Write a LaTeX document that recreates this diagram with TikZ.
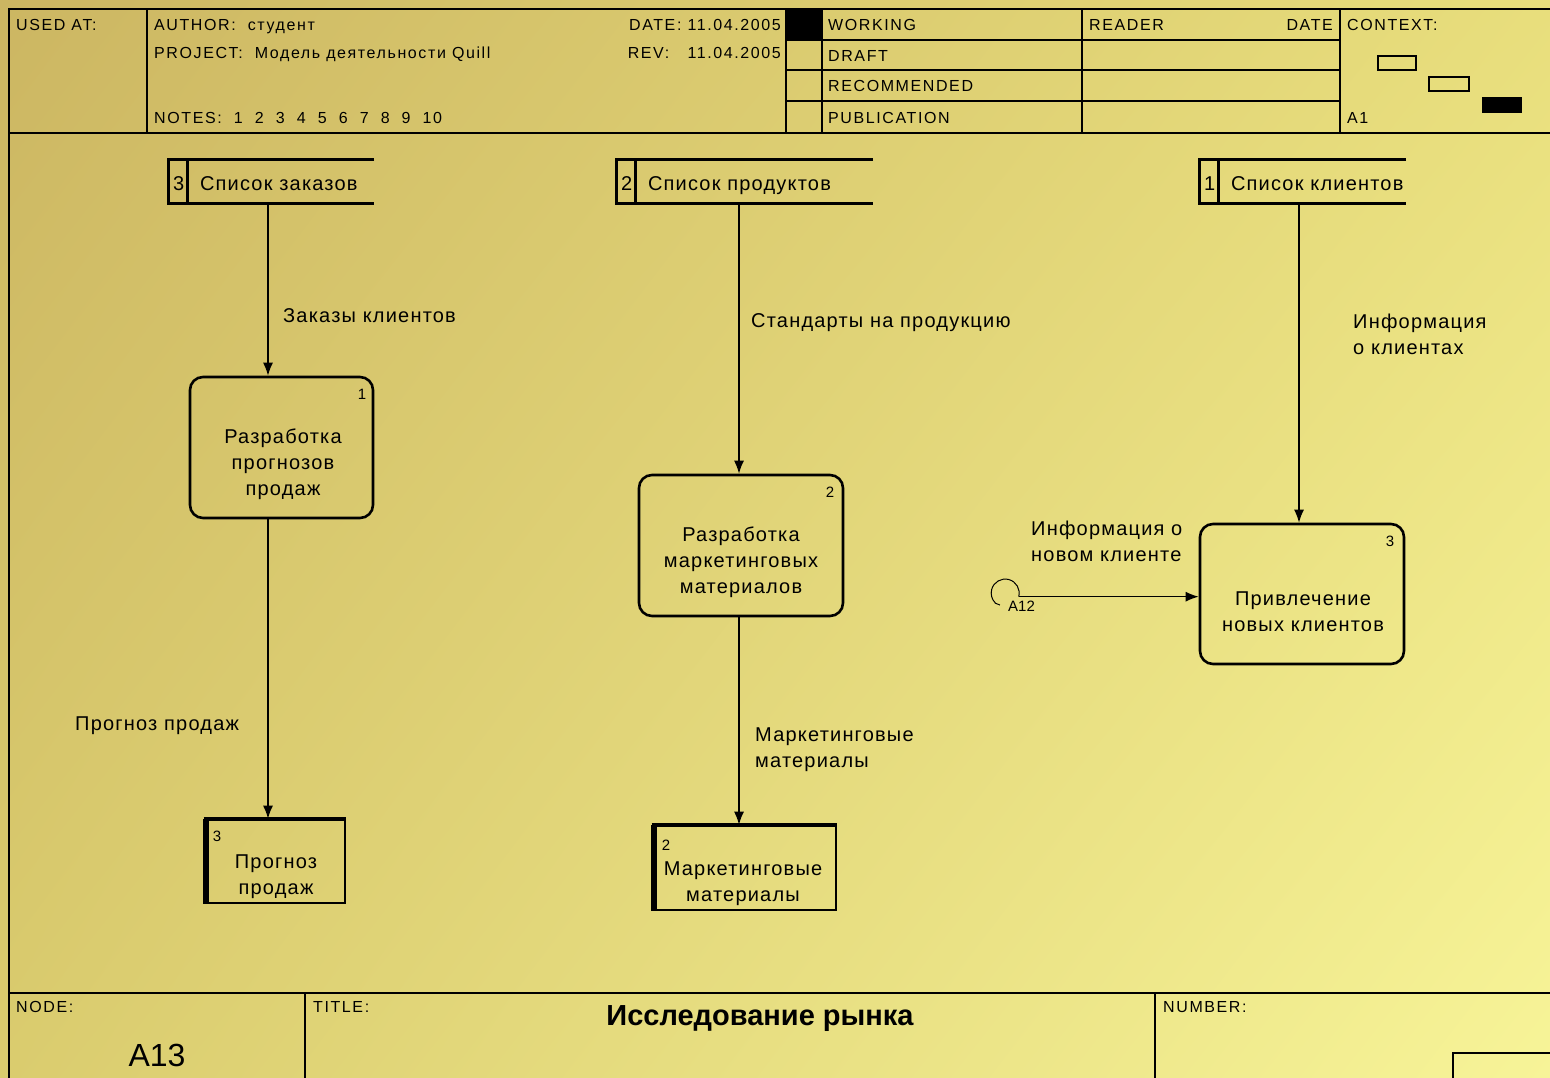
\documentclass[tikz,border=0pt]{standalone}
\usepackage{fontspec}
\setmainfont{Liberation Sans}
\newfontfamily\hdrfont[LetterSpace=10]{Liberation Sans}
\newfontfamily\lblfont[LetterSpace=6]{Liberation Sans}
\usetikzlibrary{arrows.meta,shadings}
\definecolor{bgA}{RGB}{204,182,98}
\definecolor{bgB}{RGB}{232,222,124}
\definecolor{bgC}{RGB}{218,204,110}
\definecolor{bgD}{RGB}{247,244,152}
\tikzset{
  frame/.style={line width=1.6pt, line cap=rect},
  hdr/.style={font=\hdrfont\fontsize{16}{18}\selectfont, inner sep=0pt, anchor=west, text height=11pt, text depth=0pt},
  lbl/.style={font=\lblfont\fontsize{20}{26}\selectfont, inner sep=0pt, align=left, anchor=west},
  ctext/.style={font=\lblfont\fontsize{20}{26}\selectfont, inner sep=0pt, align=center},
  stt/.style={font=\lblfont\fontsize{20}{26}\selectfont, inner sep=0pt, anchor=west, text height=14pt, text depth=0pt},
  num/.style={font=\fontsize{15}{18}\selectfont, inner sep=0pt},
  proc/.style={draw, line width=2.6pt, rounded corners=13pt, inner sep=0pt},
  stline/.style={line width=2.8pt},
  outbox/.style={draw, line width=2.6pt, inner sep=0pt},
  flow/.style={line width=1.4pt, -{Latex[length=13pt,width=10pt]}},
}
\begin{document}
\begin{tikzpicture}[x=1pt,y=-1pt]
\useasboundingbox (0,0) rectangle (1550,1078);
\shade[upper left=bgA, upper right=bgB, lower left=bgC, lower right=bgD] (0,0) rectangle (1550,1078);

% ---------- header frame ----------
\fill (786,9) rectangle (822,40);
\draw[frame] (9,9) -- (1550,9);
\draw[frame] (9,9) -- (9,1078);
\draw[frame] (9,133) -- (1550,133);
\foreach \x in {147,786,822,1082,1340} \draw[frame] (\x,9) -- (\x,133);
\foreach \y in {40,70,101} \draw[frame] (786,\y) -- (1340,\y);

\node[hdr] (usedat) at (16,25) {USED AT:};
\node[hdr] (author) at (154,25) {AUTHOR:\ \ студент};
\node[hdr] (project) at (154,53) {PROJECT:\ \ Модель деятельности Quill};
\node[hdr] (notes) at (154,118) {NOTES:\ \ 1\ \ 2\ \ 3\ \ 4\ \ 5\ \ 6\ \ 7\ \ 8\ \ 9\ \ 10};
\node[hdr, anchor=east] (date) at (781,25) {DATE: 11.04.2005};
\node[hdr, anchor=east] (rev) at (781,53) {REV:\ \ \ 11.04.2005};
\node[hdr] (working) at (828,25) {WORKING};
\node[hdr] (draft) at (828,56) {DRAFT};
\node[hdr] (recom) at (828,86) {RECOMMENDED};
\node[hdr] (publ) at (828,118) {PUBLICATION};
\node[hdr] (reader) at (1089,25) {READER};
\node[hdr, anchor=east] (rdate) at (1333,25) {DATE};
\node[hdr] (context) at (1347,25) {CONTEXT:};
\node[hdr] (a1) at (1347,118) {A1};
\draw[line width=1.6pt] (1378,56) rectangle (1416,70);
\draw[line width=1.6pt] (1429,77) rectangle (1469,91);
\filldraw[line width=1.6pt] (1483,98) rectangle (1521,112);

% ---------- footer ----------
\draw[line width=2.4pt] (9,993) -- (1550,993);
\draw[frame] (305,993) -- (305,1078);
\draw[frame] (1155,993) -- (1155,1078);
\draw[frame] (1453,1078) -- (1453,1053) -- (1550,1053);
\node[hdr] (nodelbl) at (16,1007) {NODE:};
\node[hdr] (titlelbl) at (313,1007) {TITLE:};
\node[hdr] (numlbl) at (1163,1007) {NUMBER:};
\node[font=\fontsize{32}{36}\selectfont, inner sep=0pt] (nodeid) at (157,1055) {A13};
\node[font=\bfseries\fontsize{29}{36}\selectfont, inner sep=0pt] (title) at (760,1019) {Исследование рынка};

% ---------- stores ----------
\foreach \nm/\cx/\w/\n/\t in {s3/271.5/205/3/Список заказов, s2/745/256/2/Список продуктов, s1/1303/206/1/Список клиентов}{
  \node[minimum width=\w, minimum height=43, inner sep=0pt] (\nm) at (\cx,181.5) {};
  \draw[stline] (\nm.north east) -- (\nm.north west) -- (\nm.south west) -- (\nm.south east);
  \draw[stline] ([xshift=19]\nm.north west) -- ([xshift=19]\nm.south west);
  \node[stt] (\nm n) at ([xshift=4,yshift=-2.5]\nm.west) {\n};
  \node[stt] (\nm t) at ([xshift=31,yshift=-2.5]\nm.west) {\t};
}

% ---------- processes ----------
\node[proc, minimum width=183, minimum height=141] (p1) at (281.5,447.5) {};
\node[num] (p1n) at (362,394) {1};
\node[ctext] (p1t) at (283,464) {Разработка\\прогнозов\\продаж};

\node[proc, minimum width=204, minimum height=141] (p2) at (741,545.5) {};
\node[num] (p2n) at (830,492) {2};
\node[ctext] (p2t) at (741,562) {Разработка\\маркетинговых\\материалов};

\node[proc, minimum width=204, minimum height=140] (p3) at (1302,594) {};
\node[num] (p3n) at (1390,541) {3};
\node[ctext] (p3t) at (1303,612) {Привлечение\\новых клиентов};

% ---------- output boxes ----------
\node[outbox, minimum width=140, minimum height=83] (o3) at (275,861.5) {};
\draw[line width=6pt] ([xshift=2]o3.north west) -- ([xshift=2]o3.south west);
\draw[line width=4pt] (o3.north west) -- (o3.north east);
\node[num] (o3n) at (217,836) {3};
\node[ctext] (o3t) at (276,877) {Прогноз\\продаж};

\node[outbox, minimum width=183, minimum height=84] (o2) at (744.5,868) {};
\draw[line width=6pt] ([xshift=2]o2.north west) -- ([xshift=2]o2.south west);
\draw[line width=4pt] (o2.north west) -- (o2.north east);
\node[num] (o2n) at (666,845) {2};
\node[ctext] (o2t) at (743,884) {Маркетинговые\\материалы};

% ---------- arrows ----------
\coordinate (xa) at (268,0);
\coordinate (xb) at (739,0);
\coordinate (xc) at (1299,0);
\draw[flow] (s3.south -| xa) -- (p1.north -| xa);
\draw[flow] (p1.south -| xa) -- (o3.north -| xa);
\draw[flow] (s2.south -| xb) -- (p2.north -| xb);
\draw[flow] (p2.south -| xb) -- (o2.north -| xb);
\draw[flow] (s1.south -| xc) -- (p3.north -| xc);

\node[circle, minimum size=28, inner sep=0pt] (a12) at (1005,593) {};
\draw[line width=1pt] (a12.-15) arc[start angle=-15, end angle=225, radius=14pt];
\draw[line width=1pt] (a12.-135) -- ++(5,2);
\draw[flow] (a12.-15) -- (p3.west |- a12.-15);
\node[font=\fontsize{15}{18}\selectfont, inner sep=0pt, anchor=west] (a12t) at (1008,606) {A12};

% ---------- labels ----------
\node[lbl] (l1) at (283,316) {Заказы клиентов};
\node[lbl] (l2) at (75,726) {Прогноз продаж};
\node[lbl] (l3) at (751,323) {Стандарты на продукцию};
\node[lbl] (l4) at (755,749.5) {Маркетинговые\\материалы};
\node[lbl] (l5) at (1353,334.5) {Информация\\о клиентах};
\node[lbl] (l6) at (1031,541) {Информация о\\новом клиенте};
\end{tikzpicture}
\end{document}
